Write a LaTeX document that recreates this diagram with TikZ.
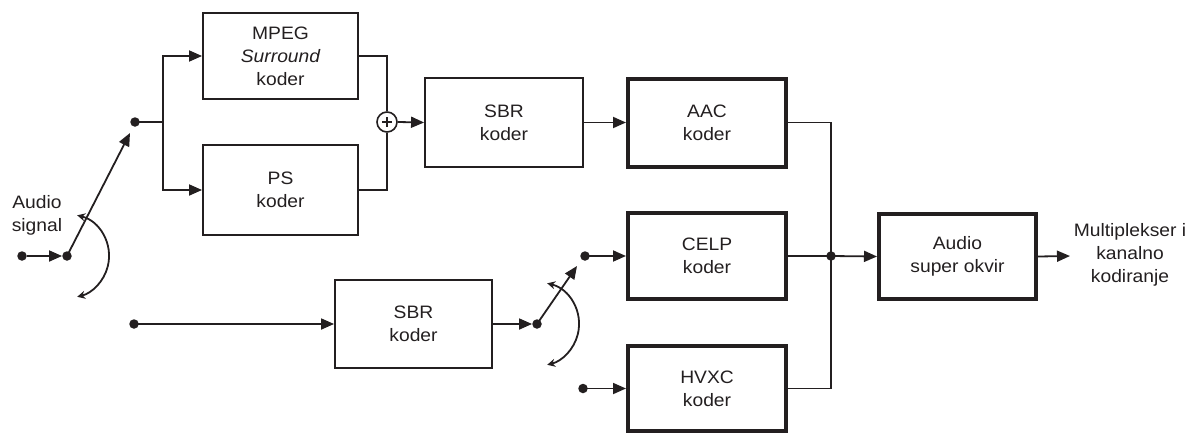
\documentclass[tikz,border=0pt]{standalone}
\usepackage{fontspec}
\setmainfont{Liberation Sans}[FakeStretch=1.07]
\usetikzlibrary{arrows.meta,calc}
\definecolor{ink}{HTML}{231F20}
\begin{document}
\begin{tikzpicture}[x=1pt,y=-1pt,
  every node/.style={font=\fontsize{18}{23}\selectfont, text=ink},
  box/.style={draw=ink, line width=1.9pt, align=center, inner sep=0pt},
  tbox/.style={draw=ink, line width=4pt, align=center, inner sep=0pt},
  dot/.style={circle, fill=ink, inner sep=0pt, minimum size=9.5pt},
  conn/.style={draw=ink, line width=1.8pt},
  arr/.style={conn, -{Triangle[length=13pt,width=11pt]}},
  swarc/.style={draw=ink, line width=1.8pt, {Stealth[length=8pt,width=8pt]}-{Stealth[length=8pt,width=8pt]}}
]
\useasboundingbox (0,0) rectangle (1191,434);

% boxes
\node[box, minimum width=155pt, minimum height=86pt] (mpeg) at (280.5,56) {MPEG\\\itshape Surround\\koder};
\node[box, minimum width=155pt, minimum height=90pt] (ps) at (280.5,190) {PS\\koder};
\node[box, minimum width=158pt, minimum height=89pt] (sbr1) at (504,122.5) {SBR\\koder};
\node[tbox, minimum width=158pt, minimum height=88pt] (aac) at (707,122.5) {AAC\\koder};
\node[tbox, minimum width=158pt, minimum height=86pt] (celp) at (707,256) {CELP\\koder};
\node[tbox, minimum width=158pt, minimum height=85pt] (hvxc) at (707,388.5) {HVXC\\koder};
\node[tbox, minimum width=157pt, minimum height=85pt] (audio) at (957.5,256.5) {Audio\\super okvir};
\node[box, minimum width=157pt, minimum height=88pt] (sbr2) at (413.5,324) {SBR\\koder};

% sum
\node[circle, draw=ink, line width=1.6pt, minimum size=20pt, inner sep=0pt] (sum) at (387,122) {};
\draw[ink, line width=1.3pt] ($(sum.center)+(-5,0)$) -- ($(sum.center)+(5,0)$);
\draw[ink, line width=1.3pt] ($(sum.center)+(0,-5)$) -- ($(sum.center)+(0,5)$);

% labels
\node[align=center] (lin) at (37,215) {Audio\\signal};
\node[align=center] (lout) at (1130,255) {Multiplekser i\\kanalno\\kodiranje};

% dots
\node[dot] (d0) at (22,256) {};
\node[dot] (s1) at (67,256) {};
\node[dot] (d1) at (135,122) {};
\node[dot] (d2) at (134,324) {};
\node[dot] (s2) at (537,324) {};
\node[dot] (d3) at (585,256) {};
\node[dot] (d4) at (583,388.5) {};
\node[dot] (j) at (831,256) {};
\coordinate (br) at (163,122);
\coordinate (t1) at (130,133);
\coordinate (t2) at (577,266);
\coordinate (bus1) at (831,122.5);
\coordinate (bus2) at (831,388.5);
\coordinate (outend) at (1070,256);

% connectors
\draw[arr] (d0) -- (s1.west);
\draw[arr] (s1.center) -- (t1);
\draw[swarc] (77.2,215.3) arc[start angle=76, end angle=-76, radius=42pt];
\draw[conn] (d1.center) -- (br);
\draw[arr] (br) |- (mpeg.west);
\draw[arr] (br) |- (ps.west);
\draw[conn] (mpeg.east) -| (sum.north);
\draw[conn] (ps.east) -| (sum.south);
\draw[arr] (sum.east) -- (sbr1.west);
\draw[arr] (sbr1.east) -- (aac.west);

\draw[arr] (d2.center) -- (sbr2.west);
\draw[arr] (sbr2.east) -- (s2.west);
\draw[arr] (s2.center) -- (t2);
\draw[swarc] (547.2,283.3) arc[start angle=76, end angle=-76, radius=42pt];
\draw[arr] (d3.center) -- (celp.west);
\draw[arr] (d4.center) -- (hvxc.west);

\draw[conn] (aac.east) -- (bus1) -- (bus2) -- (hvxc.east);
\draw[conn] (celp.east) -- (j.center);
\draw[arr] (j.center) -- (audio.west);
\draw[arr] (audio.east) -- (outend);
\end{tikzpicture}
\end{document}
